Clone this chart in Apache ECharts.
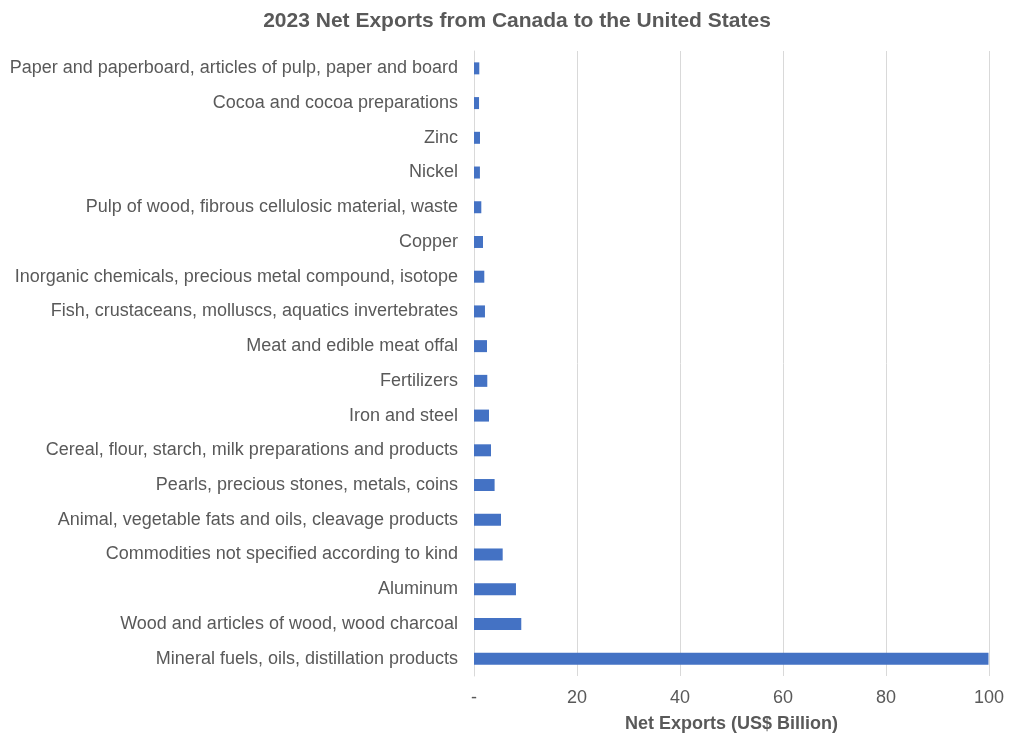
<!DOCTYPE html>
<html>
<head>
<meta charset="utf-8">
<script src="https://cdn.jsdelivr.net/npm/echarts@6/dist/echarts.min.js"></script>
<style>
  html, body { margin: 0; padding: 0; background: #fff; }
  #chart { width: 1024px; height: 734px; }
</style>
</head>
<body>
<div id="chart"></div>
<script>
// top to bottom as shown in the chart
const categories = [
  'Paper and paperboard, articles of pulp, paper and board',
  'Cocoa and cocoa preparations',
  'Zinc',
  'Nickel',
  'Pulp of wood, fibrous cellulosic material, waste',
  'Copper',
  'Inorganic chemicals, precious metal compound, isotope',
  'Fish, crustaceans, molluscs, aquatics invertebrates',
  'Meat and edible meat offal',
  'Fertilizers',
  'Iron and steel',
  'Cereal, flour, starch, milk preparations and products',
  'Pearls, precious stones, metals, coins',
  'Animal, vegetable fats and oils, cleavage products',
  'Commodities not specified according to kind',
  'Aluminum',
  'Wood and articles of wood, wood charcoal',
  'Mineral fuels, oils, distillation products'
];
const netExports = [1.03, 0.98, 1.16, 1.15, 1.42, 1.75, 2.0, 2.13, 2.52, 2.58, 2.91, 3.3, 4.0, 5.24, 5.57, 8.15, 9.18, 99.9];
const xTicks = [0, 20, 40, 60, 80, 100];

const chart = echarts.init(document.getElementById('chart'));
const textColor = '#595959';
chart.setOption({
  animation: false,
  textStyle: { fontFamily: 'Liberation Sans, Arial, sans-serif' },
  title: {
    text: '2023 Net Exports from Canada to the United States',
    left: 512,
    textAlign: 'center',
    top: 6,
    textStyle: { color: textColor, fontSize: 21, fontWeight: 'bold', fontFamily: 'Liberation Sans, Arial, sans-serif' }
  },
  grid: { left: 474, right: 35, top: 51, bottom: 58, outerBoundsMode: 'none' },
  xAxis: {
    type: 'value',
    min: 0,
    max: 100,
    interval: 20,
    name: 'Net Exports (US$ Billion)',
    nameLocation: 'middle',
    nameGap: 39,
    nameTextStyle: { color: textColor, fontSize: 18, fontWeight: 'bold' },
    axisLine: { show: false },
    axisTick: { show: false },
    axisLabel: {
      color: textColor,
      fontSize: 18,
      margin: 13,
      formatter: v => (xTicks.indexOf(v) >= 0 ? (v === 0 ? '-' : String(v)) : '')
    },
    splitLine: { show: true, lineStyle: { color: '#d9d9d9', width: 1 } }
  },
  yAxis: {
    type: 'category',
    data: categories,
    inverse: true,
    axisLine: { show: true, lineStyle: { color: '#d9d9d9', width: 1 } },
    axisTick: { show: false },
    axisLabel: { color: textColor, fontSize: 18, margin: 16 }
  },
  series: [{
    type: 'bar',
    data: netExports,
    barWidth: 12,
    itemStyle: { color: '#4472c4' }
  }]
});
</script>
</body>
</html>
